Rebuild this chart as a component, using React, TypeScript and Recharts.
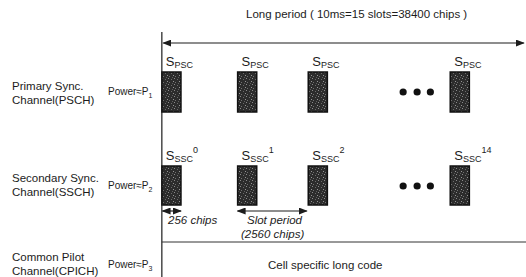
import { ComposedChart, XAxis, YAxis, Scatter, ReferenceArea, ReferenceLine, Customized } from 'recharts';

// slots actually drawn (the gap between slot 2 and 14 is compressed into "...")
const slotIndex = [0, 1, 2, 14];
const slotPos = [0, 1.03, 1.99, 3.92];
const pscLabels = ['', '', '', ''];
const sscLabels = ['0', '1', '2', '14'];
const dotPos = [3.28, 3.47, 3.65];

// chip lengths, for the annotations
const symbolChips = 256;
const slotChips = 2560;
const frameChips = 38400;

const rows = [
  { name: ['Primary Sync.', 'Channel(PSCH)'], power: '1' },
  { name: ['Secondary Sync.', 'Channel(SSCH)'], power: '2' },
  { name: ['Common Pilot', 'Channel(CPICH)'], power: '3' },
];

// layout (y in pixel-like units, axis reversed)
const blockW = 0.26;
const pschBand = [72, 112];
const sschBand = [166, 205];
const rowMid = [92, 186, 265];
const labelY = [[86, 100], [178, 192], [257, 271]];

const FONT = '"Liberation Sans", Arial, sans-serif';
const INK = '#1c1c1c';
const FS = 11.5;

const dots = [
  ...dotPos.map((x) => ({ x, y: rowMid[0] })),
  ...dotPos.map((x) => ({ x, y: rowMid[1] })),
];

const SlotLabel = (props: any) => {
  const { viewBox, sub, sup } = props;
  const x = viewBox.x + 4;
  const y = viewBox.y - 6;
  return (
    <text x={x} y={y} fill={INK} fontFamily={FONT} fontSize={13}>
      S
      <tspan fontSize={9} dy={2}>{sub}</tspan>
      {sup ? <tspan fontSize={9} dy={-9}>{sup}</tspan> : null}
    </text>
  );
};

const Defs = () => (
  <defs>
    <marker id="arr" markerWidth={9} markerHeight={7} refX={8} refY={3.5} orient="auto-start-reverse" markerUnits="userSpaceOnUse">
      <path d="M0,0 L9,3.5 L0,7 z" fill={INK} />
    </marker>
    <pattern id="grain" width={6} height={6} patternUnits="userSpaceOnUse">
      <rect width={6} height={6} fill="#2c2c2c" />
      <rect x={0} y={0} width={1} height={1} fill="#8a8a8a" />
      <rect x={3} y={1} width={1} height={1} fill="#6a6a6a" />
      <rect x={5} y={3} width={1} height={1} fill="#959595" />
      <rect x={1} y={4} width={1} height={1} fill="#707070" />
      <rect x={4} y={5} width={1} height={1} fill="#5e5e5e" />
    </pattern>
  </defs>
);

const StaticText = () => (
  <g fontFamily={FONT} fill={INK}>
    <text x={246} y={18} fontSize={FS}>
      {`Long period ( 10ms=15 slots=${frameChips} chips )`}
    </text>
    {rows.map((r, i) => (
      <g key={i}>
        <text x={12} y={labelY[i][0] + 4} fontSize={FS}>{r.name[0]}</text>
        <text x={12} y={labelY[i][1] + 4} fontSize={FS}>{r.name[1]}</text>
        <text x={108} y={rowMid[i] + 3} fontSize={10}>
          Power≈P<tspan fontSize={7} dy={3}>{r.power}</tspan>
        </text>
      </g>
    ))}
    <text x={168} y={224} fontSize={FS} fontStyle="italic">{`${symbolChips} chips`}</text>
    <text x={247} y={224} fontSize={FS} fontStyle="italic">Slot period</text>
    <text x={241} y={238} fontSize={FS} fontStyle="italic">{`(${slotChips} chips)`}</text>
    <text x={268} y={269} fontSize={FS}>Cell specific long code</text>
  </g>
);

export default function App() {
  return (
    <div style={{ position: 'absolute', left: 0, top: 0, background: '#fff' }}>
      <ComposedChart width={526} height={277} margin={{ top: 0, right: 0, bottom: 0, left: 0 }}>
        <Customized component={<Defs />} />
        <XAxis type="number" dataKey="x" domain={[-2.2, 4.95]} allowDataOverflow hide />
        <YAxis type="number" dataKey="y" domain={[0, 277]} allowDataOverflow reversed hide />

        <ReferenceLine segment={[{ x: 0, y: 32 }, { x: 0, y: 277 }]} stroke={INK} strokeWidth={1.2} />
        <ReferenceLine
          segment={[{ x: 0.02, y: 43 }, { x: 4.92, y: 43 }]}
          stroke={INK}
          strokeWidth={1.2}
          markerStart="url(#arr)"
          markerEnd="url(#arr)"
        />
        <ReferenceLine segment={[{ x: 0, y: 242 }, { x: 4.95, y: 242 }]} stroke="#333" strokeWidth={1} />

        {slotIndex.map((s, i) => (
          <ReferenceArea
            key={'p' + s}
            x1={slotPos[i]}
            x2={slotPos[i] + blockW}
            y1={pschBand[0]}
            y2={pschBand[1]}
            fill="url(#grain)"
            fillOpacity={1}
            stroke="#111"
            strokeWidth={1.5}
            ifOverflow="visible"
            label={<SlotLabel sub="PSC" sup={pscLabels[i]} />}
          />
        ))}
        {slotIndex.map((s, i) => (
          <ReferenceArea
            key={'s' + s}
            x1={slotPos[i]}
            x2={slotPos[i] + blockW}
            y1={sschBand[0]}
            y2={sschBand[1]}
            fill="url(#grain)"
            fillOpacity={1}
            stroke="#111"
            strokeWidth={1.5}
            ifOverflow="visible"
            label={<SlotLabel sub="SSC" sup={sscLabels[i]} />}
          />
        ))}

        <ReferenceLine
          segment={[{ x: slotPos[0] + 0.01, y: 211 }, { x: slotPos[0] + blockW, y: 211 }]}
          stroke={INK}
          strokeWidth={1.2}
          markerStart="url(#arr)"
          markerEnd="url(#arr)"
        />
        <ReferenceLine
          segment={[{ x: slotPos[1], y: 211 }, { x: slotPos[2] - 0.02, y: 211 }]}
          stroke={INK}
          strokeWidth={1.2}
          markerStart="url(#arr)"
          markerEnd="url(#arr)"
        />

        <Scatter
          data={dots}
          isAnimationActive={false}
          shape={(p: any) => <circle cx={p.cx} cy={p.cy} r={3.6} fill="#111" />}
        />
        <Customized component={<StaticText />} />
      </ComposedChart>
    </div>
  );
}
